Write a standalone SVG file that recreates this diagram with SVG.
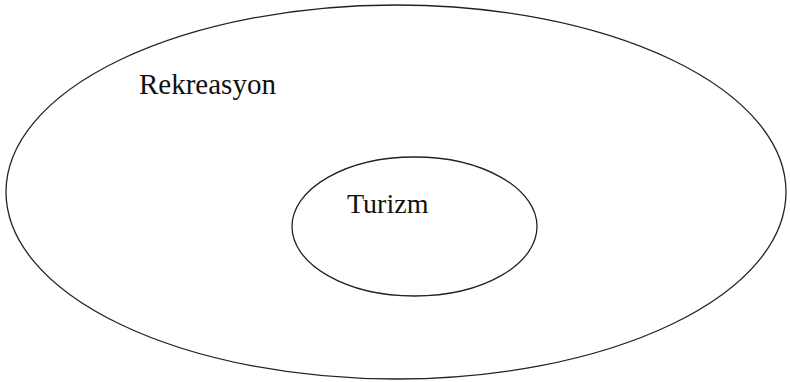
<svg xmlns="http://www.w3.org/2000/svg" width="790" height="382" viewBox="0 0 790 382">
  <style>
    .ring { fill: none; stroke: #222; stroke-width: 1.3; }
    .label { font-family: "Liberation Serif", "Times New Roman", serif; font-size: 28px; fill: #111; }
  </style>
  <rect width="790" height="382" fill="#fff"/>
  <g id="rekreasyon">
    <ellipse class="ring" cx="396" cy="192" rx="390" ry="187"/>
    <text class="label" x="139" y="94" style="font-size:29px">Rekreasyon</text>
  </g>
  <g id="turizm">
    <ellipse class="ring" cx="414.5" cy="226.5" rx="122.5" ry="69.5"/>
    <text class="label" x="347" y="213">Turizm</text>
  </g>
  <g id="connectors"/>
</svg>
